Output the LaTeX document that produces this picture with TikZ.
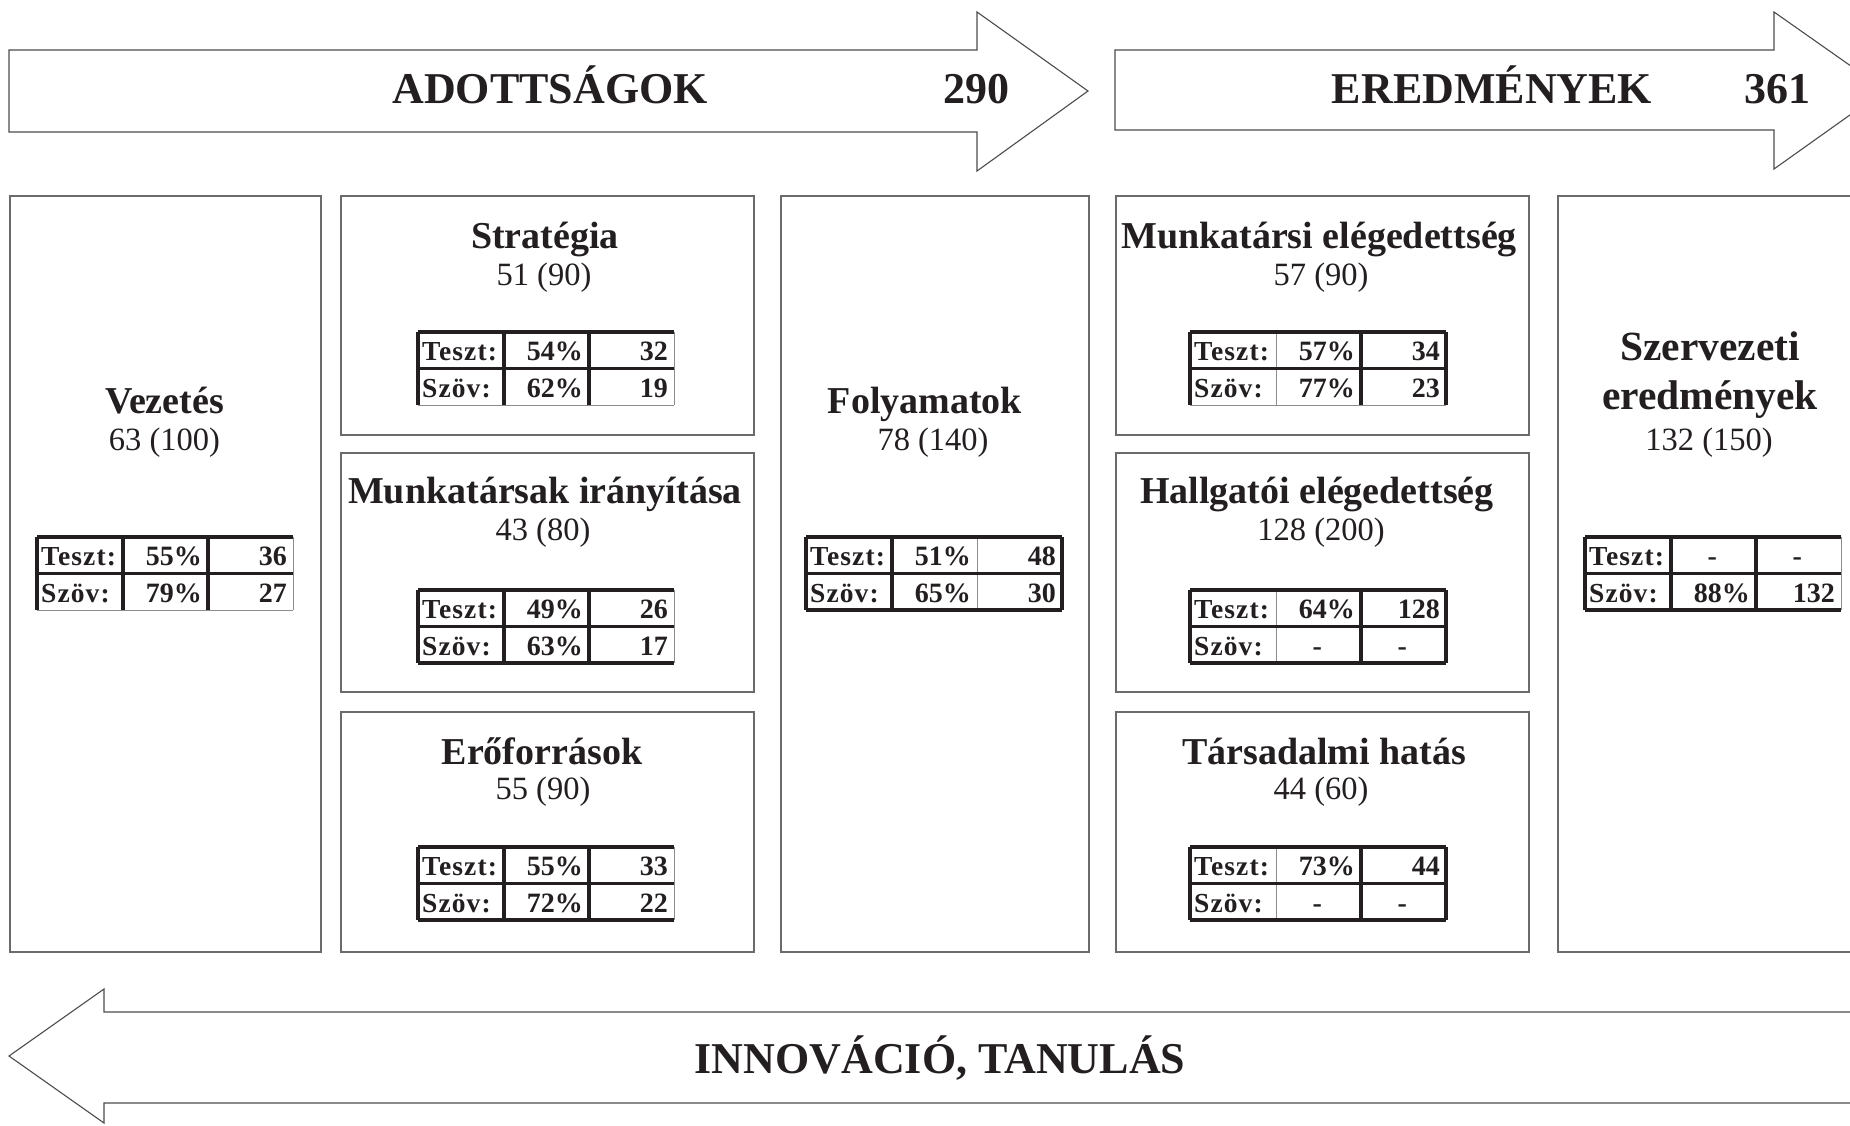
\documentclass[tikz,border=0pt]{standalone}
\usepackage{fontspec}
\setmainfont{Liberation Serif}
\newfontfamily\lblfont{Liberation Serif}[LetterSpace=4]
\definecolor{ink}{HTML}{231F20}
\tikzset{
  panel/.style={draw=black!58, line width=1.6pt, anchor=north west, inner sep=0pt, fill=none},
  arrowline/.style={draw=black!70, line width=1.1pt, line join=miter},
  thickrule/.style={draw=ink, line width=3.4pt, line cap=square},
  thinrule/.style={draw=black!45, line width=1pt},
  tT/.style=thickrule, tB/.style=thickrule, tL/.style=thickrule, tR/.style=thickrule,
  tM/.style=thickrule, tV1/.style=thickrule, tV2/.style=thickrule,
  titletext/.style={anchor=base, inner sep=0pt, text=ink, font=\fontsize{38}{40}\selectfont\bfseries},
  bigtitle/.style={anchor=base, inner sep=0pt, text=ink, font=\fontsize{41.5}{44}\selectfont\bfseries},
  numtext/.style={anchor=base, inner sep=0pt, text=ink, font=\fontsize{32.5}{34}\selectfont},
  arrtext/.style={anchor=base, inner sep=0pt, text=ink, font=\fontsize{44}{46}\selectfont\bfseries},
  cellL/.style={anchor=base west, inner sep=0pt, text=ink, font=\fontsize{27.5}{29}\selectfont\lblfont\bfseries},
  cellR/.style={anchor=base east, inner sep=0pt, text=ink, font=\fontsize{28}{29}\selectfont\bfseries},
}
\newcommand\cdash{\makebox[75pt][c]{-}}
% #1 options, #2 name, #3 x, #4 y, #5 p1, #6 n1, #7 p2, #8 n2
\newcommand\ttable[8][]{%
  \begin{scope}[#1]
    \node[cellL] (#2-l1) at ({#3+4},{#4+28}) {Teszt:};
    \node[cellR] (#2-p1) at ({#3+165},{#4+28}) {#5};
    \node[cellR] (#2-n1) at ({#3+250},{#4+28}) {#6};
    \node[cellL] (#2-l2) at ({#3+4},{#4+65}) {Szöv:};
    \node[cellR] (#2-p2) at ({#3+165},{#4+65}) {#7};
    \node[cellR] (#2-n2) at ({#3+250},{#4+65}) {#8};
    \draw[tV1] ({#3+86},{#4}) -- ({#3+86},{#4+73});
    \draw[tV2] ({#3+171},{#4}) -- ({#3+171},{#4+73});
    \draw[tR] ({#3+256},{#4}) -- ({#3+256},{#4+73});
    \draw[tB] ({#3},{#4+73}) -- ({#3+256},{#4+73});
    \draw[tM] ({#3},{#4+36.5}) -- ({#3+256},{#4+36.5});
    \draw[tL] ({#3},{#4}) -- ({#3},{#4+73});
    \draw[tT] ({#3},{#4}) -- ({#3+256},{#4});
  \end{scope}}
\begin{document}
\begin{tikzpicture}[x=1pt,y=-1pt]
\useasboundingbox (0,0) rectangle (1850,1125);
\clip (0,0) rectangle (1850,1125);
\fill[white] (0,0) rectangle (1850,1125);

% top arrows
\draw[arrowline] (9,50) -- (977,50) -- (977,12) -- (1088,91) -- (977,171) -- (977,132) -- (9,132) -- cycle;
\node[arrtext] (adott) at (550,103) {ADOTTSÁGOK};
\node[arrtext] (a290) at (976,103) {290};
\draw[arrowline] (1115,50) -- (1774,50) -- (1774,12) -- (1885,90) -- (1774,169) -- (1774,130) -- (1115,130) -- cycle;
\node[arrtext] (ered) at (1492,103) {EREDMÉNYEK};
\node[arrtext] (a361) at (1777,103) {361};

% bottom arrow
\draw[arrowline] (1880,1012) -- (104,1012) -- (104,989) -- (9,1056) -- (104,1123) -- (104,1103) -- (1880,1103);
\node[arrtext] (innov) at (940,1073) {INNOVÁCIÓ, TANULÁS};

% panels
\node[panel, minimum width=311pt, minimum height=756pt] (vez) at (9,195) {};
\node[panel, minimum width=413pt, minimum height=239pt] (strat) at (340,195) {};
\node[panel, minimum width=413pt, minimum height=239pt] (munk) at (340,452) {};
\node[panel, minimum width=413pt, minimum height=240pt] (erof) at (340,711) {};
\node[panel, minimum width=308pt, minimum height=756pt] (foly) at (780,195) {};
\node[panel, minimum width=413pt, minimum height=239pt] (munkel) at (1115,195) {};
\node[panel, minimum width=413pt, minimum height=239pt] (hallg) at (1115,452) {};
\node[panel, minimum width=413pt, minimum height=240pt] (tars) at (1115,711) {};
\node[panel, minimum width=320pt, minimum height=756pt] (szerv) at (1557,195) {};

% titles and scores
\node[titletext] (vez-t) at (164.5,413) {Vezetés};
\node[numtext] (vez-s) at (164.5,450) {63 (100)};
\node[titletext] (strat-t) at (545,248) {Stratégia};
\node[numtext] (strat-s) at (544,285) {51 (90)};
\node[titletext] (munk-t) at (545,503) {Munkatársak irányítása};
\node[numtext] (munk-s) at (543,540) {43 (80)};
\node[titletext] (erof-t) at (542,764) {Erőforrások};
\node[numtext] (erof-s) at (543,799) {55 (90)};
\node[titletext] (foly-t) at (925,413) {Folyamatok};
\node[numtext] (foly-s) at (933,450) {78 (140)};
\node[titletext] (munkel-t) at (1319,248) {Munkatársi elégedettség};
\node[numtext] (munkel-s) at (1321,285) {57 (90)};
\node[titletext] (hallg-t) at (1317,503) {Hallgatói elégedettség};
\node[numtext] (hallg-s) at (1321,540) {128 (200)};
\node[titletext] (tars-t) at (1324,764) {Társadalmi hatás};
\node[numtext] (tars-s) at (1321,799) {44 (60)};
\node[bigtitle] (szerv-t1) at (1710,360) {Szervezeti};
\node[bigtitle] (szerv-t2) at (1710,409) {eredmények};
\node[numtext] (szerv-s) at (1709,450) {132 (150)};

% tables
\ttable[tR/.style=thinrule, tB/.style=thinrule]{vezT}{37}{537}{55\%}{36}{79\%}{27}
\ttable[tR/.style=thinrule, tB/.style=thinrule]{stratT}{418}{332}{54\%}{32}{62\%}{19}
\ttable[tR/.style=thinrule]{munkT}{418}{590}{49\%}{26}{63\%}{17}
\ttable[tR/.style=thinrule]{erofT}{418}{847}{55\%}{33}{72\%}{22}
\ttable[tV2/.style=thinrule]{folyT}{806}{537}{51\%}{48}{65\%}{30}
\ttable[tV1/.style=thinrule, tB/.style=thinrule]{munkelT}{1190}{332}{57\%}{34}{77\%}{23}
\ttable[tV1/.style=thinrule]{hallgT}{1190}{590}{64\%}{128}{\cdash}{\cdash}
\ttable[tV1/.style=thinrule]{tarsT}{1190}{847}{73\%}{44}{\cdash}{\cdash}
\ttable[tR/.style=thinrule]{szervT}{1585}{537}{\cdash}{\cdash}{88\%}{132}
\end{tikzpicture}
\end{document}
